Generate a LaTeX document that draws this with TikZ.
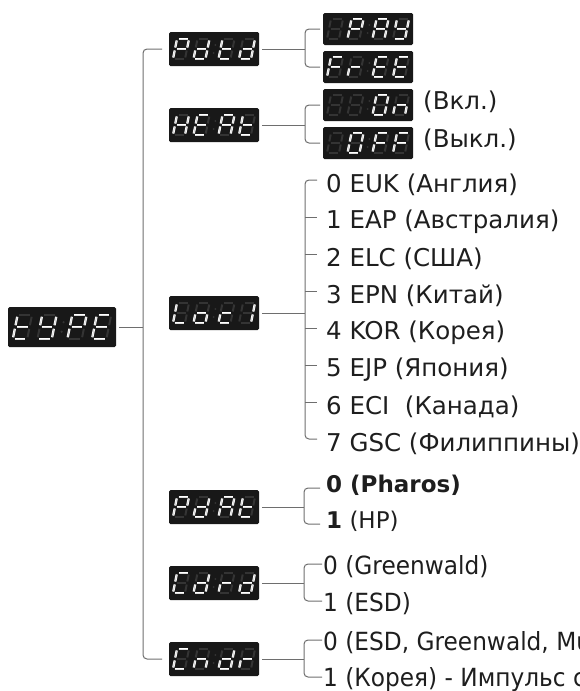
\documentclass[tikz,border=0pt]{standalone}
\usepackage{fontspec}
\setmainfont{DejaVu Sans}
\newfontfamily\narrowsans{DejaVu Sans}[FakeStretch=0.93]
\usepackage{xstring}
\usetikzlibrary{positioning}
\definecolor{LEDBack}{RGB}{24,24,24}
\definecolor{LEDOff}{RGB}{52,52,52}
\definecolor{LEDOn}{RGB}{255,255,255}
\definecolor{LinkGray}{RGB}{110,110,110}
\definecolor{TextBlack}{RGB}{30,30,30}

\tikzset{
  panel/.style={fill=LEDBack, rounded corners=1.5pt, inner sep=0pt, outer sep=3pt,
    minimum width=90pt, minimum height=34pt},
  subpanel/.style={panel, minimum height=32pt},
  bigpanel/.style={panel, minimum width=108pt, minimum height=40pt},
  segon/.style={draw=LEDOn, line width=0.7pt, double=LEDOn!85!LEDBack, double distance=0.9pt},
  segoff/.style={draw=LEDOff, line width=2pt},
  link/.style={draw=LinkGray, line width=1pt},
  bracket/.style={link, rounded corners=4pt},
  lbl/.style={anchor=west, inner sep=0pt, text=TextBlack, font=\fontsize{24.5}{28}\selectfont},
  boldlbl/.style={lbl, font=\fontsize{23}{26}\selectfont},
  nlbl/.style={lbl, font=\narrowsans\fontsize{25}{28}\selectfont},
}

% one seven-segment digit, upper left corner at (#1,#2), lit segments #3
\newcommand{\leddigit}[3]{%
  \begin{scope}[shift={(#1,#2)}, xslant=0.2]
    \foreach \s/\xa/\ya/\xb/\yb in {a/1.5/0/10.5/0, b/12/1.5/12/8.5, c/12/11.5/12/18.5,
        d/1.5/20/10.5/20, e/0/11.5/0/18.5, f/0/1.5/0/8.5, g/1.5/10/10.5/10}
      {\IfSubStr{#3}{\s}{\draw[segon] (\xa,\ya) -- (\xb,\yb);}{\draw[segoff] (\xa,\ya) -- (\xb,\yb);}}
  \end{scope}}
% four digits and the colon inside panel #1
\newcommand{\ledfour}[6]{%
  \begin{scope}[shift={(#1.center)}, scale=#2]
    \leddigit{-37}{-10}{#3}
    \leddigit{-16.5}{-10}{#4}
    \leddigit{8.5}{-10}{#5}
    \leddigit{29}{-10}{#6}
    \fill[LEDOff] (1.3,-4) circle (1pt) (-0.3,4) circle (1pt);
  \end{scope}}

\begin{document}
\begin{tikzpicture}[x=1pt, y=-1pt]
  \useasboundingbox (0,0) rectangle (580,691);
  \clip (0,0) rectangle (580,691);

  % displays
  \node[bigpanel] (type) at (62,327) {};
  \node[panel] (pdtd) at (214,49) {};
  \node[panel] (heat) at (214,125) {};
  \node[panel] (loci) at (214,313) {};
  \node[panel] (pdat) at (214,507) {};
  \node[panel] (cdrd) at (214,583) {};
  \node[panel] (cndr) at (214,659) {};
  \node[subpanel] (pay) at (368,29) {};
  \node[subpanel] (free) at (368,67) {};
  \node[subpanel] (on) at (368,105) {};
  \node[subpanel] (off) at (368,143) {};

  \ledfour{type}{1.2}{defg}{bcdfg}{abefg}{adefg}
  \ledfour{pdtd}{1}{abefg}{bcdeg}{defg}{bcdeg}
  \ledfour{heat}{1}{bcefg}{adefg}{abcefg}{defg}
  \ledfour{loci}{1}{def}{cdeg}{deg}{bc}
  \ledfour{pdat}{1}{abefg}{bcdeg}{abcefg}{defg}
  \ledfour{cdrd}{1}{adef}{bcdeg}{eg}{bcdeg}
  \ledfour{cndr}{1}{adef}{ceg}{bcdeg}{eg}
  \ledfour{pay}{1}{}{abefg}{abcefg}{bcdfg}
  \ledfour{free}{1}{aefg}{eg}{adefg}{adefg}
  \ledfour{on}{1}{}{}{abcdef}{ceg}
  \ledfour{off}{1}{}{abcdef}{aefg}{aefg}

  % main spine
  \coordinate (jType) at (143,327);
  \draw[link] (type.east) -- (jType);
  \draw[bracket, shorten <=4pt, shorten >=4pt] (pdtd.west) -| (jType) |- (cndr.west);

  % Pdtd
  \coordinate (jPdtd) at (305,49);
  \draw[link] (pdtd.east) -- (jPdtd);
  \draw[bracket] (pay.west) -| (jPdtd) |- (free.west);

  % HEAt
  \coordinate (jHeat) at (305,125);
  \draw[link] (heat.east) -- (jHeat);
  \draw[bracket] (on.west) -| (jHeat) |- (off.west);
  \node[lbl, right=7pt of on, yshift=3pt] (onlbl) {(Вкл.)};
  \node[lbl, right=7pt of off, yshift=3pt] (offlbl) {(Выкл.)};

  % Loci
  \coordinate (jLoci) at (305,313);
  \foreach \i in {0,...,7}
    \coordinate (t\i) at (317,{180+37*\i});
  \draw[link] (loci.east) -- (jLoci);
  \draw[bracket] (t0) -| (jLoci) |- (t7);
  \foreach \i in {1,...,6}
    \draw[link] (jLoci |- t\i) -- (t\i);
  \node[lbl, right=9pt of t0, yshift=-5pt] (loc0) {0 EUK (Англия)};
  \node[lbl, right=9pt of t1, yshift=-5pt] (loc1) {1 EAP (Австралия)};
  \node[lbl, right=9pt of t2, yshift=-5pt] (loc2) {2 ELC (США)};
  \node[lbl, right=9pt of t3, yshift=-5pt] (loc3) {3 EPN (Китай)};
  \node[lbl, right=9pt of t4, yshift=-5pt] (loc4) {4 KOR (Корея)};
  \node[lbl, right=9pt of t5, yshift=-5pt] (loc5) {5 EJP (Япония)};
  \node[lbl, right=9pt of t6, yshift=-5pt] (loc6) {6 ECI~ (Канада)};
  \node[lbl, right=9pt of t7, yshift=-5pt] (loc7) {7 GSC (Филиппины)};

  % PdAt
  \coordinate (jPdat) at (304,507);
  \coordinate (pha0) at (320,488);
  \coordinate (pha1) at (320,524);
  \draw[link] (pdat.east) -- (jPdat);
  \draw[bracket] (pha0) -| (jPdat) |- (pha1);
  \node[boldlbl, right=6pt of pha0, yshift=3pt] (pharos) {\bfseries 0 (Pharos)};
  \node[boldlbl, right=6pt of pha1, yshift=3pt] (hp) {\textbf{1} (HP)};

  % Cdrd
  \coordinate (jCdrd) at (304,583);
  \coordinate (cdr0) at (322,564);
  \coordinate (cdr1) at (322,601);
  \draw[link] (cdrd.east) -- (jCdrd);
  \draw[bracket] (cdr0) -| (jCdrd) |- (cdr1);
  \node[nlbl, right=1pt of cdr0, yshift=-3pt] (green) {0 (Greenwald)};
  \node[nlbl, right=1pt of cdr1, yshift=-3pt] (esd) {1 (ESD)};

  % Cndr
  \coordinate (jCndr) at (304,659);
  \coordinate (cnd0) at (322,640);
  \coordinate (cnd1) at (322,677);
  \draw[link] (cndr.east) -- (jCndr);
  \draw[bracket] (cnd0) -| (jCndr) |- (cnd1);
  \node[nlbl, right=1pt of cnd0, yshift=-3pt] (mixed) {0 (ESD, Greenwald, Mur};
  \node[nlbl, right=1pt of cnd1, yshift=-3pt] (korea) {1 (Корея) - Импульс с};
\end{tikzpicture}
\end{document}
